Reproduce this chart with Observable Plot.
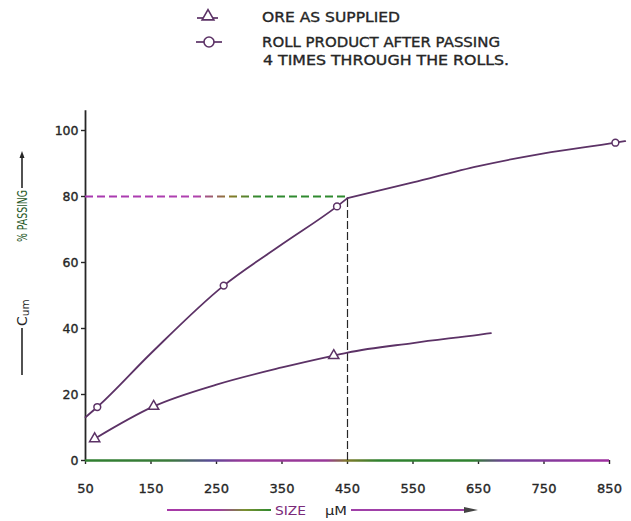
<!DOCTYPE html>
<html><head><meta charset="utf-8">
<script src="https://cdn.jsdelivr.net/npm/d3@7"></script>
<script src="https://cdn.jsdelivr.net/npm/@observablehq/plot@0.6"></script>
<style>
body{margin:0;background:#fff;}
#wrap{width:631px;height:521px;background:#fff;}
#wrap svg{display:block;}
#wrap g[aria-label$="tick label"] text{stroke:#262626;stroke-width:0.35px;}
</style></head><body><div id="wrap"></div>
<script>
// ---- data ----
const sizeTicks = [50, 150, 250, 350, 450, 550, 650, 750, 850];
const passTicks = [0, 20, 40, 60, 80, 100];
// Ore as supplied (triangles)
const oreX = [64, 154, 429];
const oreY = [6.6, 16.4, 31.8];
const oreLineX = [64, 154, 250, 350, 429, 450, 550, 650, 669];
const oreLineY = [6.6, 16.4, 23.0, 28.2, 31.8, 32.7, 35.6, 38.1, 38.6];
// Roll product after passing 4 times (circles)
const rollX = [68, 261, 434, 859];
const rollY = [16.2, 53, 77, 96.3];
// drawn in two pieces: the curve has a corner at the 80 % point
const rollLineAX = [50, 68, 150, 261, 350, 434, 450];
const rollLineAY = [13.1, 16.2, 32.5, 53, 65.5, 77, 79.5];
const rollLineBX = [450, 550, 650, 750, 859, 874];
const rollLineBY = [79.5, 84.3, 89.2, 93.1, 96.3, 96.8];
// 80 % passing reference
const refSize = [450];
const refPass = [80];
const refCurve = [79.5];
const legendLabels = ["ORE  AS  SUPPLIED", "ROLL  PRODUCT  AFTER  PASSING", "4  TIMES  THROUGH  THE   ROLLS."];
const xLabelParts = ["SIZE", "µM"];
const yLabelParts = ["C", "um", "% PASSING"];

const LINE = "#5c3266";
const DARK = "#262626";

// ---- legend (above the plot) ----
const wrap = d3.select("#wrap");
const leg = wrap.append("svg").attr("width", 631).attr("height", 75)
  .style("font-family", "DejaVu Sans").style("fill", DARK);
leg.append("line").attr("x1", 197).attr("x2", 218).attr("y1", 18).attr("y2", 18)
  .attr("stroke", LINE).attr("stroke-width", 1.7);
leg.append("path").attr("transform", "translate(208,16.5)")
  .attr("d", d3.symbol(d3.symbolTriangle, 60)())
  .attr("fill", "white").attr("stroke", LINE).attr("stroke-width", 1.6);
leg.append("line").attr("x1", 196).attr("x2", 222).attr("y1", 42).attr("y2", 42)
  .attr("stroke", LINE).attr("stroke-width", 1.7);
leg.append("circle").attr("cx", 209).attr("cy", 42).attr("r", 5)
  .attr("fill", "white").attr("stroke", LINE).attr("stroke-width", 1.6);
const legPos = [[262, 22, 138], [262, 47, 238], [263, 65, 246]];
legendLabels.forEach((t, i) => {
  leg.append("text").attr("x", legPos[i][0]).attr("y", legPos[i][1])
    .attr("text-anchor", "start")
    .attr("textLength", legPos[i][2]).attr("lengthAdjust", "spacingAndGlyphs")
    .attr("font-size", 13.5).attr("fill", "#262626")
    .attr("stroke", "#262626").attr("stroke-width", 0.35).text(t);
});

// ---- chart ----
const oreLine = oreLineX.map((x, i) => ({x, y: oreLineY[i]}));
const oreDots = oreX.map((x, i) => ({x, y: oreY[i]}));
const rollLineA = rollLineAX.map((x, i) => ({x, y: rollLineAY[i]}));
const rollLineB = rollLineBX.map((x, i) => ({x, y: rollLineBY[i]}));
const rollDots = rollX.map((x, i) => ({x, y: rollY[i]}));

const plot = Plot.plot({
  width: 631, height: 446,
  marginLeft: 85, marginRight: 22, marginTop: 55, marginBottom: 61,
  x: {domain: [50, 850]},
  y: {domain: [0, 100]},
  style: {fontFamily: "DejaVu Sans", fontSize: "12px", color: DARK, background: "white"},
  marks: [
    Plot.axisY({ticks: passTicks, tickSize: 4, tickPadding: 3, label: null, fontSize: 12.5, strokeWidth: 1.4}),
    Plot.axisX({ticks: sizeTicks, tickSize: 4, tickPadding: 19, label: null, fontSize: 13, strokeWidth: 1.4}),
    Plot.ruleX([50], {y1: 0, y2: 106, stroke: DARK, strokeWidth: 1.8}),
    Plot.ruleY([0], {x1: 50, x2: 850, stroke: "url(#axisGrad)", strokeWidth: 2.4}),
    Plot.ruleY(refPass, {x1: 50, x2: refSize[0], stroke: "url(#dashGrad)", strokeWidth: 1.8, strokeDasharray: "8,4"}),
    Plot.ruleX(refSize, {y1: 0, y2: refCurve[0], stroke: DARK, strokeWidth: 1.2, strokeDasharray: "8,3"}),
    Plot.line(oreLine, {x: "x", y: "y", curve: "monotone-x", stroke: LINE, strokeWidth: 1.8}),
    Plot.line(rollLineA, {x: "x", y: "y", curve: "monotone-x", stroke: LINE, strokeWidth: 1.8}),
    Plot.line(rollLineB, {x: "x", y: "y", curve: "monotone-x", stroke: LINE, strokeWidth: 1.8}),
    Plot.dot(oreDots, {x: "x", y: "y", symbol: "triangle", r: 3.8, fill: "white", stroke: LINE, strokeWidth: 1.5}),
    Plot.dot(rollDots, {x: "x", y: "y", symbol: "circle", r: 3.4, fill: "white", stroke: LINE, strokeWidth: 1.5})
  ]
});
wrap.node().appendChild(plot);

const svg = d3.select(plot);
const defs = svg.insert("defs", ":first-child");
function grad(id, x1, x2, stops) {
  const g = defs.append("linearGradient").attr("id", id).attr("gradientUnits", "userSpaceOnUse")
    .attr("x1", x1).attr("x2", x2).attr("y1", 0).attr("y2", 0);
  stops.forEach(([o, c]) => g.append("stop").attr("offset", o).attr("stop-color", c));
}
grad("dashGrad", 85, 348, [[0, "#a838b0"], [0.42, "#b040b0"], [0.55, "#8a7a28"], [0.66, "#2f8a2f"], [1, "#2f8a2f"]]);
grad("axisGrad", 85, 609, [[0, "#2f7f2f"], [0.16, "#3a7a3a"], [0.24, "#5a4a98"], [0.3, "#983898"], [0.46, "#983898"], [0.5, "#7f7a2a"], [0.56, "#2f812f"], [0.74, "#2f812f"], [0.8, "#704098"], [1, "#a030a0"]]);
grad("xlabGrad", 167, 271, [[0, "#a838a8"], [0.5, "#a040a0"], [0.75, "#7a9030"], [1, "#2f8a2f"]]);

const deco = svg.append("g").attr("font-family", "DejaVu Sans").attr("fill", "#262626")
  .attr("text-anchor", "start");
// x axis title with arrow
const ly = 435;
deco.append("line").attr("x1", 167).attr("x2", 271).attr("y1", ly).attr("y2", ly)
  .attr("stroke", "url(#xlabGrad)").attr("stroke-width", 2);
deco.append("text").attr("x", 275).attr("y", ly + 5).attr("font-size", 13)
  .attr("textLength", 31).attr("lengthAdjust", "spacingAndGlyphs").attr("fill", "#7a2a7a").text(xLabelParts[0]);
deco.append("text").attr("x", 325).attr("y", ly + 5).attr("font-size", 13)
  .attr("textLength", 22).attr("lengthAdjust", "spacingAndGlyphs").text(xLabelParts[1]);
deco.append("line").attr("x1", 351).attr("x2", 467).attr("y1", ly).attr("y2", ly)
  .attr("stroke", "#a040a8").attr("stroke-width", 2);
deco.append("path").attr("d", `M464,${ly - 3}L478,${ly}L464,${ly + 3}Z`).attr("fill", "#444");
// y axis title (rotated)
const lx = 22;
deco.append("line").attr("x1", lx).attr("x2", lx).attr("y1", 300).attr("y2", 253)
  .attr("stroke", DARK).attr("stroke-width", 1.6);
const cum = deco.append("text").attr("transform", `translate(${lx + 5},251) rotate(-90)`);
cum.append("tspan").attr("font-size", 14).text(yLabelParts[0]);
cum.append("tspan").attr("font-size", 10.5).attr("dy", 2).text(yLabelParts[1]);
deco.append("text").attr("transform", `translate(${lx + 5},167) rotate(-90)`)
  .attr("font-size", 13.5).attr("textLength", 52).attr("lengthAdjust", "spacingAndGlyphs")
  .attr("fill", "#2a5a2a").text(yLabelParts[2]);
deco.append("line").attr("x1", lx).attr("x2", lx).attr("y1", 113).attr("y2", 80)
  .attr("stroke", DARK).attr("stroke-width", 1.6);
deco.append("path").attr("d", `M${lx},76L${lx - 2.5},83L${lx + 2.5},83Z`).attr("fill", DARK);
</script></body></html>
